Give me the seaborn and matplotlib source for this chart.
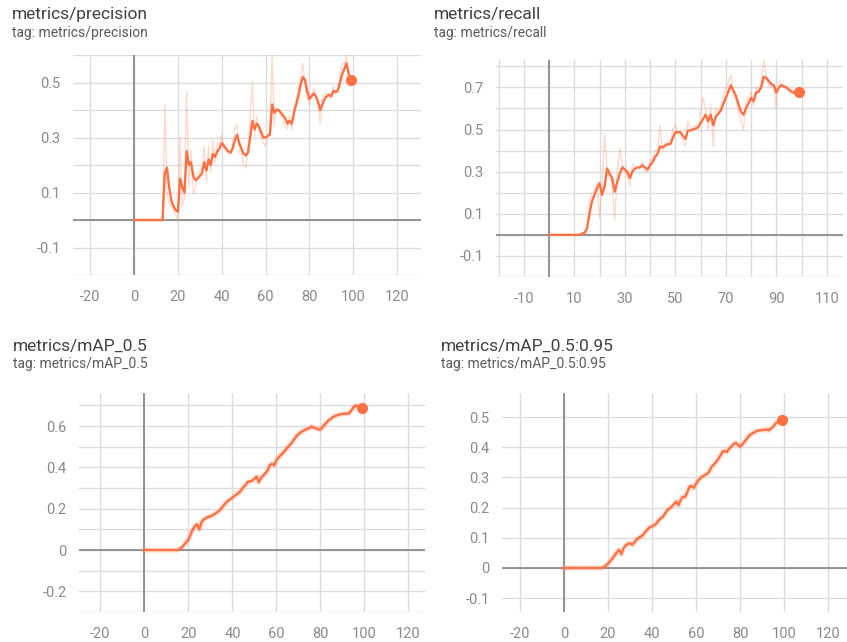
import numpy as np
import pandas as pd
import matplotlib
matplotlib.use("Agg")
import matplotlib.pyplot as plt
import seaborn as sns

# epochs 0..99
epochs = list(range(100))

# metrics/precision (smoothed line + faint raw line)
precision = [0] * 14 + [
    0.17, 0.19, 0.12, 0.07, 0.05, 0.035, 0.03, 0.15, 0.12, 0.10,
    0.25, 0.20, 0.21, 0.16, 0.145, 0.15, 0.16, 0.17, 0.21, 0.18,
    0.22, 0.20, 0.24, 0.23, 0.25, 0.26, 0.28, 0.27, 0.26, 0.25,
    0.245, 0.26, 0.29, 0.31, 0.28, 0.26, 0.24, 0.235, 0.245, 0.30,
    0.36, 0.33, 0.35, 0.34, 0.32, 0.30, 0.30, 0.305, 0.31, 0.42,
    0.39, 0.40, 0.40, 0.39, 0.38, 0.37, 0.35, 0.36, 0.35, 0.39,
    0.42, 0.45, 0.49, 0.52, 0.51, 0.47, 0.44, 0.45, 0.46, 0.45,
    0.43, 0.40, 0.42, 0.44, 0.45, 0.455, 0.45, 0.47, 0.465, 0.47,
    0.50, 0.53, 0.55, 0.57, 0.53, 0.51]
precision_raw = [0] * 14 + [
    0.42, 0.10, 0.06, 0.05, 0.03, 0.02, 0.00, 0.30, 0.05, 0.08,
    0.47, 0.12, 0.25, 0.10, 0.12, 0.16, 0.18, 0.19, 0.27, 0.14,
    0.27, 0.17, 0.29, 0.21, 0.28, 0.27, 0.31, 0.26, 0.25, 0.24,
    0.24, 0.28, 0.33, 0.35, 0.24, 0.24, 0.20, 0.19, 0.26, 0.38,
    0.50, 0.30, 0.38, 0.33, 0.30, 0.28, 0.27, 0.31, 0.32, 0.60,
    0.34, 0.41, 0.40, 0.38, 0.36, 0.34, 0.33, 0.38, 0.33, 0.41,
    0.44, 0.48, 0.52, 0.57, 0.50, 0.44, 0.42, 0.45, 0.48, 0.45,
    0.42, 0.35, 0.45, 0.46, 0.46, 0.46, 0.44, 0.49, 0.46, 0.48,
    0.53, 0.57, 0.57, 0.60, 0.50, 0.50]

# metrics/recall
recall = [0] * 13 + [
    0.005, 0.01, 0.03, 0.10, 0.16, 0.19, 0.22, 0.245, 0.19, 0.23,
    0.315, 0.29, 0.27, 0.205, 0.25, 0.29, 0.32, 0.31, 0.30, 0.27,
    0.30, 0.315, 0.32, 0.32, 0.33, 0.32, 0.31, 0.33, 0.345, 0.37,
    0.385, 0.42, 0.415, 0.424, 0.43, 0.43, 0.46, 0.487, 0.487, 0.487,
    0.47, 0.455, 0.495, 0.495, 0.50, 0.505, 0.51, 0.53, 0.55, 0.57,
    0.54, 0.57, 0.52, 0.56, 0.575, 0.59, 0.62, 0.65, 0.68, 0.71,
    0.685, 0.66, 0.62, 0.585, 0.57, 0.60, 0.625, 0.65, 0.635, 0.675,
    0.68, 0.70, 0.75, 0.745, 0.73, 0.715, 0.71, 0.675, 0.70, 0.71,
    0.705, 0.70, 0.69, 0.68, 0.675, 0.68, 0.68]
recall_raw = [0] * 13 + [
    0.01, 0.01, 0.00, 0.16, 0.20, 0.21, 0.25, 0.08, 0.25, 0.48,
    0.30, 0.26, 0.25, 0.07, 0.30, 0.41, 0.34, 0.30, 0.28, 0.23,
    0.33, 0.33, 0.32, 0.32, 0.35, 0.30, 0.30, 0.35, 0.36, 0.40,
    0.40, 0.52, 0.40, 0.44, 0.43, 0.43, 0.50, 0.52, 0.48, 0.49,
    0.44, 0.42, 0.54, 0.50, 0.51, 0.52, 0.50, 0.58, 0.65, 0.60,
    0.50, 0.62, 0.42, 0.60, 0.59, 0.61, 0.66, 0.69, 0.72, 0.76,
    0.66, 0.64, 0.58, 0.54, 0.50, 0.63, 0.65, 0.68, 0.61, 0.70,
    0.68, 0.72, 0.84, 0.74, 0.71, 0.70, 0.70, 0.60, 0.73, 0.72,
    0.70, 0.69, 0.68, 0.67, 0.67, 0.69, 0.68]

# metrics/mAP_0.5
map50 = [0] * 16 + [
    0.005, 0.012, 0.025, 0.038, 0.05, 0.075, 0.10, 0.115, 0.125, 0.10,
    0.135, 0.148, 0.155, 0.16, 0.163, 0.168, 0.175, 0.182, 0.19, 0.202,
    0.215, 0.228, 0.238, 0.246, 0.253, 0.262, 0.27, 0.278, 0.29, 0.305,
    0.315, 0.33, 0.332, 0.336, 0.345, 0.355, 0.328, 0.35, 0.36, 0.372,
    0.385, 0.41, 0.418, 0.41, 0.435, 0.448, 0.46, 0.47, 0.483, 0.496,
    0.508, 0.52, 0.535, 0.55, 0.56, 0.57, 0.575, 0.582, 0.586, 0.59,
    0.598, 0.592, 0.588, 0.584, 0.583, 0.595, 0.608, 0.62, 0.63, 0.638,
    0.645, 0.65, 0.654, 0.657, 0.658, 0.66, 0.66, 0.661, 0.675, 0.69,
    0.70, 0.695, 0.69, 0.689]

# metrics/mAP_0.5:0.95
map50_95 = [0] * 18 + [
    0.003, 0.008, 0.015, 0.022, 0.032, 0.042, 0.052, 0.06, 0.046, 0.065,
    0.075, 0.08, 0.082, 0.077, 0.085, 0.095, 0.10, 0.105, 0.11, 0.12,
    0.128, 0.135, 0.138, 0.142, 0.148, 0.158, 0.165, 0.17, 0.182, 0.192,
    0.198, 0.204, 0.212, 0.22, 0.208, 0.225, 0.236, 0.235, 0.25, 0.27,
    0.272, 0.265, 0.28, 0.29, 0.298, 0.304, 0.308, 0.312, 0.32, 0.335,
    0.342, 0.35, 0.36, 0.372, 0.385, 0.388, 0.384, 0.395, 0.402, 0.41,
    0.415, 0.408, 0.402, 0.41, 0.418, 0.428, 0.438, 0.443, 0.448, 0.452,
    0.455, 0.456, 0.457, 0.458, 0.459, 0.456, 0.462, 0.468, 0.478, 0.484,
    0.488, 0.49]

# tick values / labels
prec_yticks = [-0.2, -0.1, 0, 0.1, 0.2, 0.3, 0.4, 0.5, 0.6]
prec_ylabels = ["", "-0.1", "", "0.1", "", "0.3", "", "0.5", ""]
rec_yticks = [-0.2, -0.1, 0, 0.1, 0.2, 0.3, 0.4, 0.5, 0.6, 0.7, 0.8]
rec_ylabels = ["", "-0.1", "", "0.1", "", "0.3", "", "0.5", "", "0.7", ""]
map50_yticks = [-0.3, -0.2, -0.1, 0, 0.1, 0.2, 0.3, 0.4, 0.5, 0.6, 0.7]
map50_ylabels = ["", "-0.2", "", "0", "", "0.2", "", "0.4", "", "0.6", ""]
map95_yticks = [-0.1, 0, 0.1, 0.2, 0.3, 0.4, 0.5]
map95_ylabels = ["-0.1", "0", "0.1", "0.2", "0.3", "0.4", "0.5"]
x20_ticks = [-20, 0, 20, 40, 60, 80, 100, 120]
x20_labels = ["-20", "0", "20", "40", "60", "80", "100", "120"]
x10_ticks = list(range(-20, 120, 10))
x10_labels = ["", "-10", "", "10", "", "30", "", "50", "", "70", "", "90", "", "110"]

sns.set_theme(style="whitegrid")
plt.rcParams['font.family'] = ['Roboto', 'DejaVu Sans']
plt.rcParams['axes.unicode_minus'] = False

ORANGE = "#ff7043"
W, H = 847, 642
fig = plt.figure(figsize=(W / 100, H / 100), dpi=100)

panels = [
    dict(name="metrics/precision", y=precision, raw=precision_raw,
         box=(73, 55, 421, 275), xlim=(-27.9, 131), ylim=(-0.19, 0.6),
         xt=x20_ticks, xl=x20_labels, yt=prec_yticks, yl=prec_ylabels, tx=12, ty=15),
    dict(name="metrics/recall", y=recall, raw=recall_raw,
         box=(496, 60, 843, 277), xlim=(-21, 116.4), ylim=(-0.188, 0.83),
         xt=x10_ticks, xl=x10_labels, yt=rec_yticks, yl=rec_ylabels, tx=434, ty=15),
    dict(name="metrics/mAP_0.5", y=map50, raw=None,
         box=(79, 393, 425, 612), xlim=(-29.7, 127.5), ylim=(-0.29, 0.76),
         xt=x20_ticks, xl=x20_labels, yt=map50_yticks, yl=map50_ylabels, tx=13, ty=346),
    dict(name="metrics/mAP_0.5:0.95", y=map50_95, raw=None,
         box=(502, 393, 847, 612), xlim=(-28.2, 128.6), ylim=(-0.146, 0.58),
         xt=x20_ticks, xl=x20_labels, yt=map95_yticks, yl=map95_ylabels, tx=441, ty=346),
]

for p in panels:
    x0, y0, x1, y1 = p["box"]
    ax = fig.add_axes([x0 / W, 1 - y1 / H, (x1 - x0) / W, (y1 - y0) / H])
    ax.set_facecolor("white")
    for s in ax.spines.values():
        s.set_visible(False)
    ax.grid(True, color="#dcdcdc", lw=1.0)
    ax.axhline(0, color="#8c8c8c", lw=1.3, zorder=1)
    ax.axvline(0, color="#8c8c8c", lw=1.3, zorder=1)

    df = pd.DataFrame({"epoch": epochs, "value": p["y"]})
    if p["raw"] is not None:
        df_raw = pd.DataFrame({"epoch": epochs, "value": p["raw"]})
        sns.lineplot(data=df_raw, x="epoch", y="value", ax=ax, color=ORANGE,
                     alpha=0.25, lw=1.0, estimator=None, zorder=2)
    else:
        sns.lineplot(data=df, x="epoch", y="value", ax=ax, color=ORANGE,
                     alpha=0.2, lw=4, estimator=None, zorder=2)
    sns.lineplot(data=df, x="epoch", y="value", ax=ax, color=ORANGE,
                 lw=1.7, estimator=None, zorder=3)
    ax.plot(epochs[-1], p["y"][-1], "o", color=ORANGE, ms=7, zorder=4)

    ax.set_xlim(*p["xlim"])
    ax.set_ylim(*p["ylim"])
    ax.set_xticks(p["xt"])
    ax.set_xticklabels(p["xl"])
    ax.set_yticks(p["yt"])
    ax.set_yticklabels(p["yl"])
    ax.tick_params(axis="both", colors="#9a9a9a", labelsize=10.5, length=4,
                   width=0.8, pad=5, labelcolor="#8a8a8a")
    ax.tick_params(axis="x", pad=7)
    ax.set_xlabel("")
    ax.set_ylabel("")

    fig.text(p["tx"] / W, 1 - p["ty"] / H, p["name"], fontsize=12.5,
             color="#404040", va="center", ha="left")
    fig.text(p["tx"] / W, 1 - (p["ty"] + 18) / H, "tag: " + p["name"],
             fontsize=10, color="#5a5a5a", va="center", ha="left")

fig.savefig("out.png", dpi=100, facecolor="white")
